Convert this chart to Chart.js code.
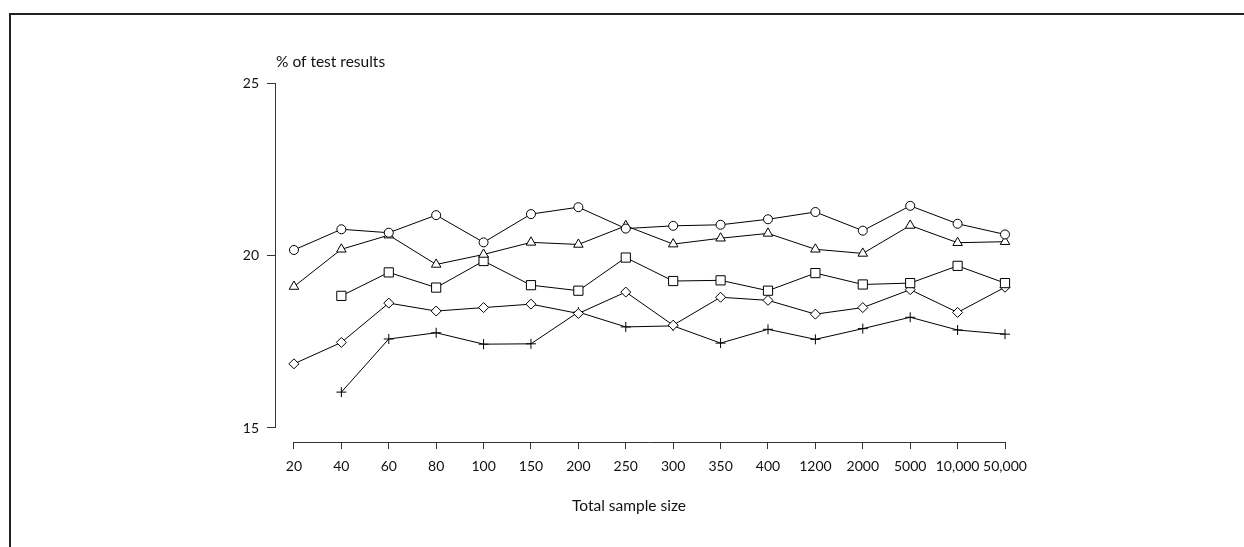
<!DOCTYPE html>
<html>
<head>
<meta charset="utf-8">
<script src="https://cdn.jsdelivr.net/npm/chart.js@4/dist/chart.umd.min.js"></script>
<style>
  html, body { margin: 0; padding: 0; background: #fff; }
  #wrap { position: relative; width: 1244px; height: 547px; overflow: hidden; }
  #frame { position: absolute; left: 9px; top: 13px; right: 0; bottom: 0;
           border-top: 2px solid #222; border-left: 2px solid #222; pointer-events: none; }
  canvas { position: absolute; left: 0; top: 0; }
</style>
</head>
<body>
<div id="wrap">
  <canvas id="chart" width="1244" height="547"></canvas>
  <div id="frame"></div>
</div>
<script>
// Sample sizes along the horizontal axis
const sampleSizes = ['20', '40', '60', '80', '100', '150', '200', '250', '300', '350', '400', '1200', '2000', '5000', '10,000', '50,000'];

// Percentage of test results per series (null where no value was recorded)
const circleSeries   = [20.16, 20.76, 20.66, 21.17, 20.38, 21.20, 21.40, 20.78, 20.86, 20.89, 21.05, 21.26, 20.72, 21.44, 20.92, 20.61];
const triangleSeries = [19.10, 20.18, 20.59, 19.74, 20.03, 20.38, 20.32, 20.86, 20.33, 20.50, 20.64, 20.18, 20.06, 20.87, 20.37, 20.40];
const squareSeries   = [null, 18.83, 19.51, 19.07, 19.84, 19.14, 18.98, 19.94, 19.26, 19.28, 18.98, 19.49, 19.16, 19.20, 19.70, 19.20];
const diamondSeries  = [16.86, 17.48, 18.62, 18.39, 18.49, 18.59, 18.32, 18.94, 17.98, 18.79, 18.70, 18.30, 18.49, 19.01, 18.35, 19.08];
const plusSeries     = [null, 16.04, 17.58, 17.76, 17.43, 17.44, 18.36, 17.93, 17.96, 17.46, 17.86, 17.57, 17.88, 18.21, 17.84, 17.72];

// Value-axis ticks
const yTicks = [15, 20, 25];

const FONT = 'Lato, "Open Sans", sans-serif';

function toPoints(values) {
  return values.map((v, i) => ({ x: i, y: v }));
}

function series(values, style, radius) {
  return {
    data: toPoints(values),
    pointStyle: style,
    pointRadius: radius,
    pointHoverRadius: radius,
    pointBackgroundColor: '#fff',
    pointBorderColor: '#000',
    pointBorderWidth: 1,
    borderColor: '#000',
    borderWidth: 1,
    tension: 0,
    spanGaps: false,
    fill: false,
    clip: false
  };
}

// Detached axis lines and axis captions
const axisDecor = {
  id: 'axisDecor',
  afterDraw(chart) {
    const { ctx, chartArea, scales } = chart;
    const x = scales.x, y = scales.y;
    ctx.save();
    ctx.strokeStyle = '#333';
    ctx.lineWidth = 1;
    // vertical axis from 15 to 25
    const ax = Math.round(chartArea.left) + 0.5;
    ctx.beginPath();
    ctx.moveTo(ax, y.getPixelForValue(yTicks[0]));
    ctx.lineTo(ax, y.getPixelForValue(yTicks[yTicks.length - 1]));
    ctx.stroke();
    // horizontal axis from first to last category
    const ay = Math.round(chartArea.bottom) + 0.5;
    ctx.beginPath();
    ctx.moveTo(x.getPixelForValue(0), ay);
    ctx.lineTo(x.getPixelForValue(sampleSizes.length - 1), ay);
    ctx.stroke();

    ctx.fillStyle = '#111';
    ctx.font = '15.5px ' + FONT;
    ctx.textBaseline = 'alphabetic';
    ctx.textAlign = 'left';
    ctx.fillText('% of test results', chartArea.left + 1, 67);
    ctx.textAlign = 'center';
    ctx.fillText('Total sample size', 629, 511);
    ctx.restore();
  }
};

new Chart(document.getElementById('chart'), {
  type: 'line',
  data: {
    datasets: [
      series(circleSeries, 'circle', 4.5),
      series(triangleSeries, 'triangle', 5.5),
      series(squareSeries, 'rect', 6.5),
      series(diamondSeries, 'rectRot', 5),
      series(plusSeries, 'cross', 5)
    ]
  },
  options: {
    responsive: false,
    animation: false,
    events: [],
    layout: { padding: { left: 215, right: 239, top: 83, bottom: 5 } },
    plugins: { legend: { display: false }, tooltip: { enabled: false } },
    scales: {
      x: {
        type: 'linear',
        min: -0.4,
        max: sampleSizes.length - 1,
        afterBuildTicks: (s) => { s.ticks = sampleSizes.map((_, i) => ({ value: i })); },
        afterFit: (s) => { s.height = 100; },
        border: { display: false },
        grid: { drawOnChartArea: false, drawTicks: true, tickLength: 7, color: '#333' },
        ticks: {
          autoSkip: false,
          maxRotation: 0,
          padding: 9,
          color: '#111',
          font: { family: FONT, size: 14 },
          callback: (v) => sampleSizes[v]
        }
      },
      y: {
        type: 'linear',
        min: 14.594,
        max: 25,
        afterBuildTicks: (s) => { s.ticks = yTicks.map(v => ({ value: v })); },
        afterFit: (s) => { s.width = 60; },
        border: { display: false },
        grid: { drawOnChartArea: false, drawTicks: true, tickLength: 8, color: '#333' },
        ticks: {
          padding: 8,
          color: '#111',
          font: { family: FONT, size: 14 }
        }
      }
    }
  },
  plugins: [axisDecor]
});
</script>
</body>
</html>
